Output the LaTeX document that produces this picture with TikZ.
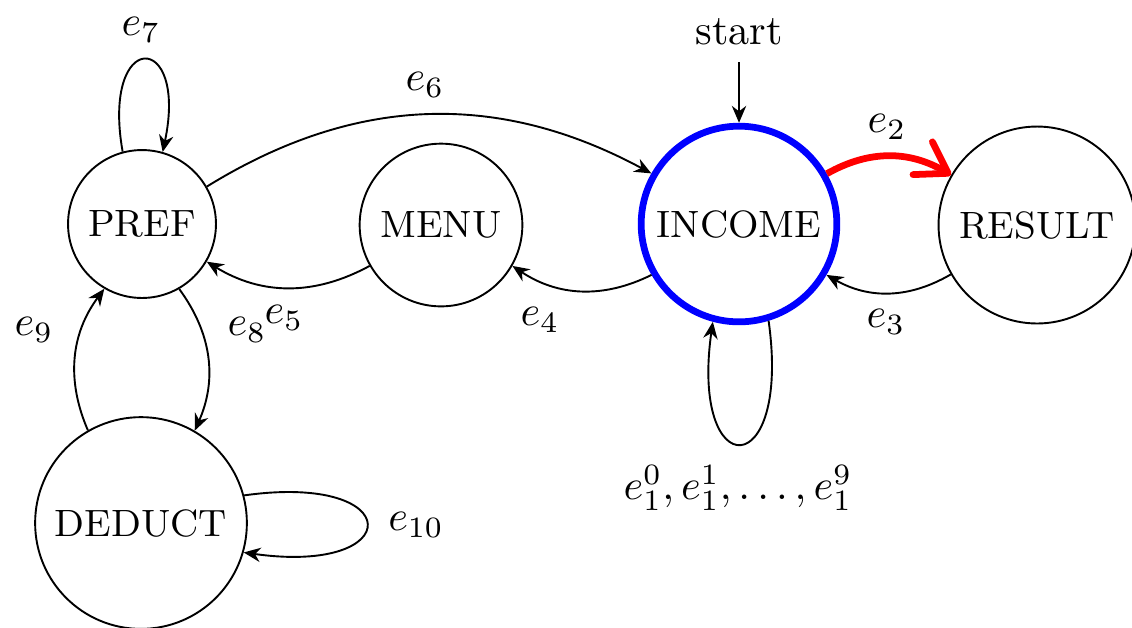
\documentclass[tikz,border=0pt]{standalone}
\usetikzlibrary{arrows.meta}
\begin{document}
\begin{tikzpicture}[x=0.00831cm,y=0.00831cm,
  state/.style={circle,draw,inner sep=0pt,font=\small,line width=0.45pt},
  arr/.style={-{Stealth[length=4pt,width=3.4pt,inset=1.3pt]},line width=0.45pt},
  lbl/.style={inner sep=0pt}]
\useasboundingbox (0,0) rectangle (1132,627);
% states
\node[state,minimum size=35pt] (pref) at (142,403) {PREF};
\node[state,minimum size=38.5pt] (menu) at (441,402) {MENU};
\node[state,minimum size=46.3pt,draw=blue,line width=1.6pt] (income) at (739,403) {INCOME};
\node[state,minimum size=46.6pt] (result) at (1037,402) {RESULT};
\node[state,minimum size=50.1pt] (deduct) at (141,104) {DEDUCT};
% start
\node[anchor=base,inner sep=4pt] (start) at (739,583) {start};
\draw[arr] (start) -- (income);
% edges
\draw[arr] (pref) to[bend left=30] (income);
\draw[red,line width=1.6pt,-{Straight Barb[length=7pt,width=9pt,round]}] (income) to[bend left=30] (result);
\draw[arr] (result) to[bend left=30] (income);
\draw[arr] (income) to[bend left=30] (menu);
\draw[arr] (menu) to[bend left=30] (pref);
\draw[arr] (pref) to[bend left=30] (deduct);
\draw[arr] (deduct) to[bend left=30] (pref);
% loops
\draw[arr] (pref.105) .. controls +(100:125) and +(78:125) .. (pref.74);
\draw[arr] (deduct.15) .. controls +(8:165) and +(-8:165) .. (deduct.-16);
\draw[arr] (income.-73) .. controls +(-82:165) and +(-98:165) .. (income.-105);
% labels
\node[lbl] (l7) at (141,597) {$e_7$};
\node[lbl] (l6) at (425,542) {$e_6$};
\node[lbl] (l2) at (887,500) {$e_2$};
\node[lbl] (l3) at (886,305) {$e_3$};
\node[lbl] (l4) at (540,307) {$e_4$};
\node[lbl] (l5) at (284,309) {$e_5$};
\node[lbl] (l8) at (247,297) {$e_8$};
\node[lbl] (l9) at (34,297) {$e_9$};
\node[lbl] (l10) at (416,102) {$e_{10}$};
\node[lbl] (l1) at (738,139) {$e_1^0, e_1^1, \ldots, e_1^9$};
\end{tikzpicture}
\end{document}
